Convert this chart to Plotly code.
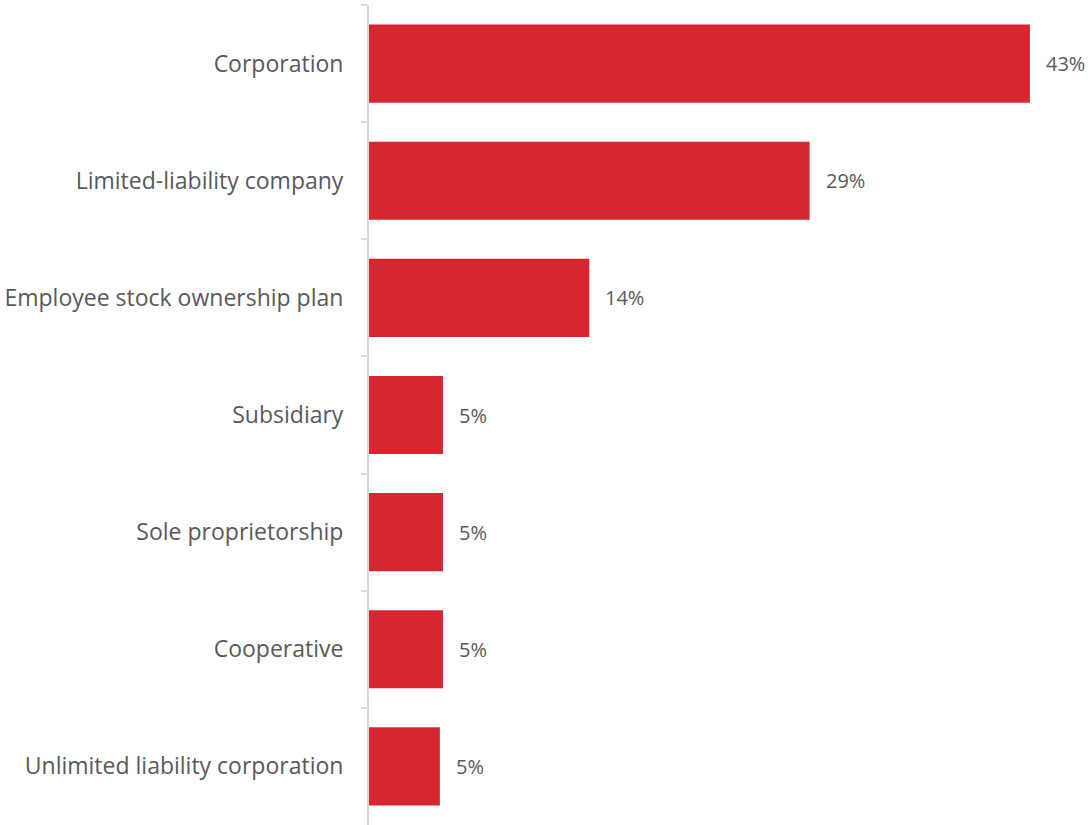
import plotly.graph_objects as go

# Ownership structure shares (percent of respondents)
categories = [
    "Corporation",
    "Limited-liability company",
    "Employee stock ownership plan",
    "Subsidiary",
    "Sole proprietorship",
    "Cooperative",
    "Unlimited liability corporation",
]
shares = [42.9, 28.6, 14.3, 4.8, 4.8, 4.8, 4.6]

BAR_RED = "#D7262F"
TEXT_GREY = "#595959"
AXIS_GREY = "#D9D9D9"
FONT = "Open Sans, Noto Sans, sans-serif"

fig = go.Figure(
    go.Bar(
        x=shares,
        y=categories,
        orientation="h",
        marker=dict(color=BAR_RED, line=dict(width=0)),
        width=0.667,
        hoverinfo="skip",
    )
)

# Value labels just past the end of each bar
for cat, val in zip(categories, shares):
    fig.add_annotation(
        x=val,
        y=cat,
        text=f"{val:.0f}%",
        showarrow=False,
        xanchor="left",
        yanchor="middle",
        xshift=14,
        font=dict(family=FONT, size=20, color=TEXT_GREY),
    )

fig.update_layout(
    width=1090,
    height=825,
    margin=dict(l=369, r=0, t=5, b=0),
    paper_bgcolor="white",
    plot_bgcolor="white",
    showlegend=False,
    font=dict(family=FONT, color=TEXT_GREY),
)

fig.update_xaxes(
    range=[0, 46.8],
    visible=False,
    showgrid=False,
    zeroline=False,
)

fig.update_yaxes(
    autorange="reversed",
    showgrid=False,
    zeroline=False,
    showline=True,
    linecolor=AXIS_GREY,
    linewidth=2,
    ticks="outside",
    tickson="boundaries",
    ticklen=6,
    tickwidth=2,
    tickcolor=AXIS_GREY,
    ticklabelstandoff=19,
    tickfont=dict(family=FONT, size=23, color=TEXT_GREY),
)

fig.write_html("out.html")
